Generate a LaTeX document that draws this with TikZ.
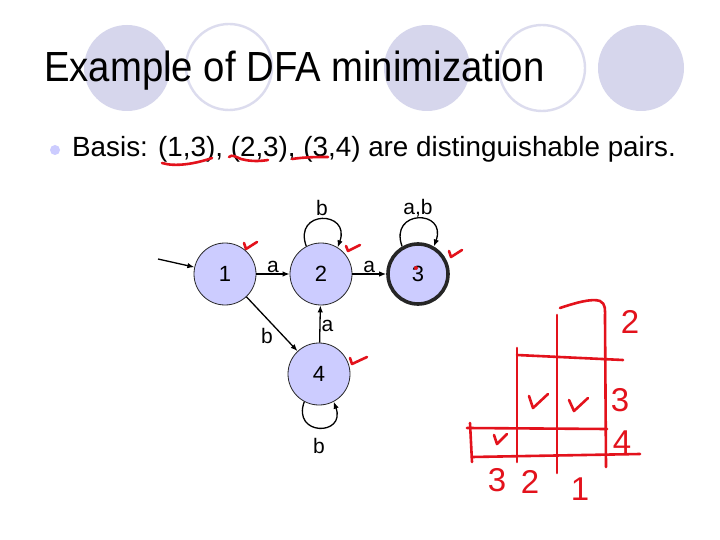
\documentclass[tikz,border=0pt]{standalone}
\usepackage{fontspec}
\setmainfont{Liberation Sans}
\usetikzlibrary{arrows.meta,calc,positioning}
\definecolor{deco}{HTML}{D6D6EC}
\definecolor{ring}{HTML}{DCDCEE}
\definecolor{stfill}{HTML}{CCCCFF}
\definecolor{pen}{HTML}{E3121C}
\definecolor{ink}{HTML}{000000}

\tikzset{
  dfastate/.style={circle,draw=ink!85,fill=stfill,line width=0.8pt,minimum size=62pt,inner sep=0pt,font=\fontsize{22}{24}\selectfont},
  accept/.style={dfastate,line width=3.6pt,minimum size=60pt},
  trans/.style={-{Latex[length=7pt,width=5.5pt]},line width=1.3pt,ink},
  sym/.style={font=\fontsize{21}{23}\selectfont,inner sep=1pt},
  redpen/.style={pen,line width=2.6pt,line cap=round,line join=round},
  handnum/.style={pen,font=\fontsize{33}{35}\selectfont,inner sep=0pt}
}

\begin{document}
\begin{tikzpicture}[x=1pt,y=-1pt]
\useasboundingbox (0,0) rectangle (720,540);
\fill[white] (0,0) rectangle (720,540);
% slide decoration
\fill[deco] (127,68) circle (43pt);
\draw[ring,line width=2.4pt] (229,67) circle (43pt);
\fill[deco] (427,68) circle (43pt);
\draw[ring,line width=2.4pt] (542,68) circle (43pt);
\fill[deco] (641,68) circle (43pt);
\node[anchor=base west,inner sep=0pt,font=\fontsize{38.3}{40}\selectfont,yscale=1.1,transform shape] (title) at (44,82) {Example of DFA minimization};
\fill[stfill] (55,150) circle (5pt);
\node[anchor=base west,inner sep=0pt,font=\fontsize{27.8}{30}\selectfont] (basis) at (72,157) {Basis: (1,3), (2,3), (3,4) are distinguishable pairs.};

% states
\node[dfastate] (s1) at (225,274) {1};
\node[dfastate] (s2) at (321,274) {2};
\node[accept] (s3) at (418,274) {3};
\node[dfastate] (s4) at (319,374) {4};
\coordinate (start) at (158,259);

% transitions
\draw[trans] (start) -- (s1);
\draw[trans] (s1) -- node[sym,above] {a} (s2);
\draw[trans] (s2) -- node[sym,above] {a} (s3);
\draw[trans] (s1) -- node[sym,below left,pos=0.55] {b} (s4);
\draw[trans] (s4) -- node[sym,right,pos=0.45] {a} (s2);
\draw[trans] (s2.118) to[out=110,in=70,looseness=3.2] node[sym,above=2pt,pos=0.5] {b} (s2.58);
\draw[trans] (s3.120) to[out=110,in=70,looseness=3.2] node[sym,above=0pt,pos=0.5] {a,b} (s3.60);
\draw[trans] (s4.242) to[out=250,in=290,looseness=3.2] node[sym,below=9pt,pos=0.5] {b} (s4.298);

% pen marks
\draw[redpen] (162,163) .. controls (175,167) and (195,164) .. (212,158);
\draw[redpen] (229,157) .. controls (232,154) and (236,157) .. (241,159) .. controls (252,162) and (262,161) .. (268,160);
\draw[redpen] (292,159) .. controls (305,157) and (318,157) .. (328,157);
\draw[redpen] (244,243) -- (246,249) -- (257,242);
\draw[redpen] (346,246) -- (348,251) -- (360,245);
\draw[redpen] (449,251) -- (451,257) -- (462,250);
\draw[redpen] (350,358) -- (352,364) -- (367,357);
\fill[pen] (416,268) circle (2pt);

% table
\draw[redpen] (560,308) .. controls (575,303) and (592,298) .. (600,301) .. controls (606,304) and (605,310) .. (605,318) -- (606,467);
\draw[redpen] (557,315) -- (557,473);
\draw[redpen] (517,348) -- (517,462);
\draw[redpen] (470,423) -- (472,462);
\draw[redpen] (517,355) -- (623,360);
\draw[redpen] (467,428) -- (607,429);
\draw[redpen] (472,457) -- (640,454);
\draw[redpen] (529,396) -- (533,408) -- (548,394);
\draw[redpen] (569,400) -- (574,411) -- (588,398);
\draw[redpen] (494,435) -- (497,444) -- (507,434);
\node[handnum] (r2) at (630,322) {2};
\node[handnum] (r3) at (620,400) {3};
\node[handnum] (r4) at (622,442) {4};
\node[handnum] (c3) at (497,480) {3};
\node[handnum] (c2) at (530,482) {2};
\node[handnum] (c1) at (580,489) {1};
\end{tikzpicture}
\end{document}
